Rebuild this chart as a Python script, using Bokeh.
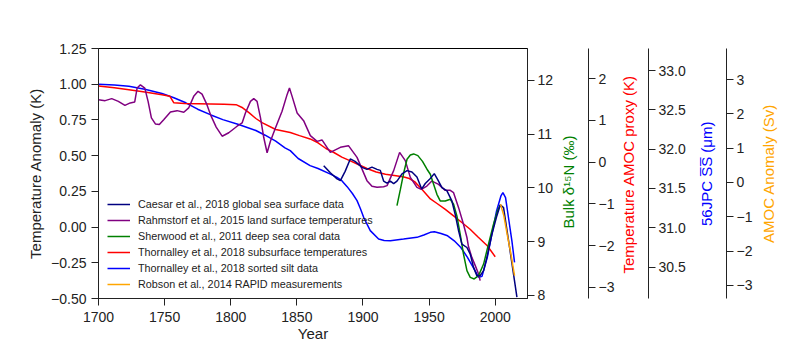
import math
from bokeh.plotting import figure
from bokeh.models import (Range1d, LinearAxis, FixedTicker, CustomJSTickFormatter,
                          Legend, LegendItem)
from bokeh.embed import file_html
from bokeh.resources import INLINE

FONT = "Liberation Sans"
TICK_FS = "14px"
LABEL_FS = "15px"
INK = "#222222"

# ---------------- data (all series in Temperature Anomaly units, K) ----------------
caesar_year = [1870.3, 1875.3, 1880.4, 1882.9, 1886.5, 1890.4, 1894.0, 1899.3, 1903.0,
               1906.8, 1910.6, 1913.1, 1915.6, 1918.1, 1920.7, 1923.2, 1925.7, 1929.5, 1933.3,
               1937.0, 1940.8, 1944.4, 1947.1, 1950.9, 1953.9, 1956.4, 1959.7, 1963.5, 1967.2,
               1969.7, 1972.3, 1974.8, 1978.6, 1981.1, 1983.6, 1986.1, 1988.6, 1991.2, 1993.7,
               1997.5, 2001.2, 2003.8, 2006.3, 2010.1, 2013.8, 2016.4]
caesar_val = [0.43, 0.38, 0.337, 0.325, 0.39, 0.477, 0.46, 0.418, 0.404,
              0.42, 0.404, 0.397, 0.322, 0.308, 0.322, 0.304, 0.322, 0.372, 0.395,
              0.385, 0.35, 0.267, 0.305, 0.34, 0.374, 0.334, 0.276, 0.253, 0.183,
              0.09, -0.027, -0.119, -0.143, -0.189, -0.282, -0.34, -0.34, -0.305, -0.212,
              -0.05, 0.078, 0.155, 0.136, -0.096, -0.328, -0.491]

rahm_year = [1700, 1705, 1710, 1715, 1720, 1724, 1727.4, 1729.2, 1731.7, 1735, 1737.5, 1740,
             1743, 1746, 1749.3, 1754.4, 1759.4, 1764.5, 1768.2, 1772, 1775.3, 1778.3, 1782,
             1785, 1789, 1793.5, 1798.5, 1804.8, 1808.6, 1811.1, 1814.9, 1817.4, 1819.9,
             1822.5, 1825, 1827.5, 1830, 1833.8, 1838.8, 1842.6, 1844.4, 1846.4, 1850.2,
             1855.1, 1860.2, 1865.3, 1869, 1875.3, 1882.9, 1889, 1895.5,
             1903, 1906.8, 1910.6, 1915.6, 1918.2, 1923.2, 1927.7, 1932, 1935.8,
             1940.8, 1944.1, 1948.3, 1952.1, 1957.2, 1962.2, 1966, 1968.5, 1972.3, 1976,
             1978.6, 1979.8, 1982.3, 1984.9, 1987.4, 1988.6]
rahm_val = [0.892, 0.885, 0.899, 0.88, 0.852, 0.869, 0.876, 0.973, 0.996, 0.973, 0.88, 0.764,
            0.722, 0.718, 0.752, 0.806, 0.815, 0.804, 0.834, 0.915, 0.95, 0.931, 0.857,
            0.78, 0.70, 0.636, 0.66, 0.706, 0.729, 0.799, 0.88, 0.899, 0.88,
            0.764, 0.625, 0.52, 0.601, 0.694, 0.811, 0.927, 0.973, 0.915, 0.799,
            0.745, 0.64, 0.60, 0.61, 0.523, 0.558, 0.57, 0.488,
            0.325, 0.285, 0.278, 0.282, 0.29, 0.395, 0.523, 0.465, 0.348,
            0.278, 0.264, 0.287, 0.322, 0.299, 0.257, 0.257, 0.241, 0.136, 0.02,
            -0.073, -0.138, -0.212, -0.27, -0.328, -0.375]

sher_year = [1925.7, 1928.2, 1930.8, 1933.3, 1935.8, 1938.3, 1941.5, 1945.0, 1948.4, 1950.9,
             1953.4, 1955.9, 1958.4, 1962.2, 1966, 1968.5, 1971, 1973.5, 1976, 1978.6,
             1981.1, 1984.1, 1987.4, 1991.2, 1994.9, 1998.7, 2001.7, 2003.8]
sher_val = [0.15, 0.26, 0.38, 0.475, 0.505, 0.512, 0.5, 0.46, 0.405, 0.37,
            0.299, 0.229, 0.183, 0.183, 0.195, 0.16, 0.078, -0.05, -0.189, -0.305,
            -0.352, -0.363, -0.34, -0.259, -0.119, 0.02, 0.113, 0.155]

sub_year = [1700, 1712, 1723, 1735, 1748, 1754, 1757, 1765, 1775, 1785, 1795, 1804, 1809,
            1814, 1819, 1824, 1834, 1845, 1852, 1860, 1866, 1872, 1878, 1884, 1890, 1896,
            1903, 1910, 1917, 1925, 1931, 1935, 1939, 1944, 1951, 1956, 1962, 1968.5, 1975,
            1981, 1987, 1994, 2000]
sub_val = [0.988, 0.975, 0.962, 0.945, 0.927, 0.915, 0.87, 0.865, 0.864, 0.862, 0.86, 0.857,
           0.835, 0.799, 0.76, 0.729, 0.683, 0.662, 0.64, 0.617, 0.59, 0.55, 0.522, 0.49,
           0.465, 0.44, 0.41, 0.385, 0.37, 0.36, 0.35, 0.34, 0.318, 0.27, 0.197, 0.165,
           0.125, 0.078, 0.03, -0.015, -0.07, -0.131, -0.208]

silt_year = [1700, 1712, 1723, 1735, 1748, 1757, 1766, 1775, 1785, 1794, 1806, 1819, 1826,
             1834, 1841, 1845, 1851, 1860, 1866, 1875, 1880, 1884, 1888, 1892, 1895.5, 1898,
             1900.5, 1905.5, 1911.8, 1916, 1920.7, 1925, 1930.7, 1935, 1940.8, 1946, 1950.9,
             1954, 1959, 1964, 1969, 1974, 1979, 1984, 1987.5, 1990, 1994, 1997.5, 2001,
             2004.3, 2005.8, 2007.8, 2010, 2012.6, 2014.6]
silt_val = [1.0, 0.995, 0.985, 0.965, 0.935, 0.905, 0.87, 0.825, 0.785, 0.752, 0.718, 0.676,
            0.643, 0.601, 0.555, 0.535, 0.48, 0.43, 0.41, 0.372, 0.35, 0.325, 0.283, 0.235,
            0.185, 0.13, 0.068, -0.025, -0.084, -0.094, -0.095, -0.09, -0.084, -0.078,
            -0.072, -0.055, -0.037, -0.033, -0.045, -0.061, -0.096, -0.143, -0.212, -0.293,
            -0.352, -0.345, -0.212, -0.05, 0.113, 0.218, 0.241, 0.206, 0.067, -0.096, -0.247]

robson_year = [2004.0, 2006.5, 2009.0, 2011.5, 2014.6]
robson_val = [0.16, 0.08, -0.05, -0.17, -0.34]

series_labels = ["Caesar et al., 2018 global sea surface data",
                 "Rahmstorf et al., 2015 land surface temperatures",
                 "Sherwood et al., 2011 deep sea coral data",
                 "Thornalley et al., 2018 subsurface temperatures",
                 "Thornalley et al., 2018 sorted silt data",
                 "Robson et al., 2014 RAPID measurements"]

# ticks
x_ticks = [1700, 1750, 1800, 1850, 1900, 1950, 2000]
temp_ticks = [-0.5, -0.25, 0.0, 0.25, 0.5, 0.75, 1.0, 1.25]
bulk_ticks = [8, 9, 10, 11, 12]
proxy_ticks = [-3, -2, -1, 0, 1, 2]
jpc_ticks = [30.5, 31.0, 31.5, 32.0, 32.5, 33.0]
amoc_ticks = [-3, -2, -1, 0, 1, 2, 3]

# ---------------- figure ----------------
FRAME_TOP, FRAME_H = 48, 250
Y0, Y1 = -0.5, 1.25
p = figure(frame_width=429, frame_height=FRAME_H,
           x_range=Range1d(1700, 2024.4), y_range=Range1d(Y0, Y1),
           output_backend="svg", toolbar_location=None,
           min_border_left=98, min_border_top=FRAME_TOP, min_border_bottom=40,
           min_border_right=262)
p.xgrid.visible = False
p.ygrid.visible = False
p.outline_line_color = "black"
p.outline_line_width = 1

p.extra_y_ranges = {
    "bulk": Range1d(7.944, 12.595),
    "proxy": Range1d(-3.27, 2.727),
    "jpc": Range1d(30.10, 33.28),
    "amoc": Range1d(-3.379, 3.903),
}

def fmt(decimals):
    return CustomJSTickFormatter(
        code="return tick.toFixed(%d).replace('-', '\\u2212');" % decimals)

def style(ax, label, color, ticks, dec, standoff=3, lab_standoff=5):
    if label is not None:
        ax.axis_label = label
        ax.axis_label_text_font = FONT
        ax.axis_label_text_font_size = LABEL_FS
        ax.axis_label_text_font_style = "normal"
        ax.axis_label_text_color = color
        ax.axis_label_standoff = lab_standoff
    ax.ticker = FixedTicker(ticks=ticks)
    ax.formatter = fmt(dec)
    ax.major_label_text_font = FONT
    ax.major_label_text_font_size = TICK_FS
    ax.major_label_text_color = INK
    ax.major_label_standoff = standoff
    ax.major_tick_out = 7
    ax.major_tick_in = 0
    ax.minor_tick_line_color = None
    ax.axis_line_color = INK
    ax.major_tick_line_color = INK

style(p.xaxis[0], "Year", INK, x_ticks, 0, standoff=6, lab_standoff=0)
style(p.yaxis[0], "Temperature Anomaly (K)", INK, temp_ticks, 2, standoff=5, lab_standoff=4)

def title_axis(text, color, gap, center_px, length_px):
    """An axis that only carries a rotated title (reading upwards), centred at center_px."""
    bottom_px = center_px + length_px / 2.0
    v = Y1 - (bottom_px - FRAME_TOP) * (Y1 - Y0) / FRAME_H
    a = LinearAxis(ticker=FixedTicker(ticks=[v]),
                   formatter=CustomJSTickFormatter(args=dict(t=text), code="return t;"),
                   axis_line_color=None, major_tick_line_color=None,
                   minor_tick_line_color=None, major_tick_out=gap, major_tick_in=0,
                   minor_tick_out=0, minor_tick_in=0, major_label_standoff=0,
                   major_label_orientation=math.pi / 2,
                   major_label_text_font=FONT, major_label_text_font_size=LABEL_FS,
                   major_label_text_color=color)
    p.add_layout(a, "right")

ax1 = LinearAxis(y_range_name="bulk")
style(ax1, None, None, bulk_ticks, 0)
p.add_layout(ax1, "right")
title_axis("Bulk δ¹⁵N (‰)", "green", 12, 182, 92)

ax2 = LinearAxis(y_range_name="proxy")
style(ax2, None, None, proxy_ticks, 0)
p.add_layout(ax2, "right")
title_axis("Temperature AMOC proxy (K)", "red", 11, 173, 200)

ax3 = LinearAxis(y_range_name="jpc")
style(ax3, None, None, jpc_ticks, 1)
p.add_layout(ax3, "right")
title_axis("56JPC S\u0305S\u0305 (μm)", "blue", 18, 173, 105)

ax4 = LinearAxis(y_range_name="amoc")
style(ax4, None, None, amoc_ticks, 0)
p.add_layout(ax4, "right")
title_axis("AMOC Anomaly (Sv)", "orange", 13, 173, 139)

# ---------------- lines ----------------
LW = 1.5
r_silt = p.line(silt_year, silt_val, line_color="#0000ff", line_width=LW)
r_sub = p.line(sub_year, sub_val, line_color="#ff0000", line_width=LW)
r_rahm = p.line(rahm_year, rahm_val, line_color="#800080", line_width=LW)
r_sher = p.line(sher_year, sher_val, line_color="#008000", line_width=LW)
r_caesar = p.line(caesar_year, caesar_val, line_color="#000080", line_width=LW)
r_rob = p.line(robson_year, robson_val, line_color="#ffa500", line_width=LW)

renderers = [r_caesar, r_rahm, r_sher, r_sub, r_silt, r_rob]
items = [LegendItem(label=lab, renderers=[r]) for lab, r in zip(series_labels, renderers)]
legend = Legend(items=items, location=(9, 8), padding=0, margin=0, spacing=4,
                glyph_width=23, glyph_height=12, label_height=12, label_standoff=8,
                label_text_font=FONT, label_text_font_size="10.8px",
                label_text_color=INK, border_line_color=None, background_fill_alpha=0)
p.add_layout(legend)

open("out.html", "w", encoding="utf-8").write(file_html(p, INLINE))
